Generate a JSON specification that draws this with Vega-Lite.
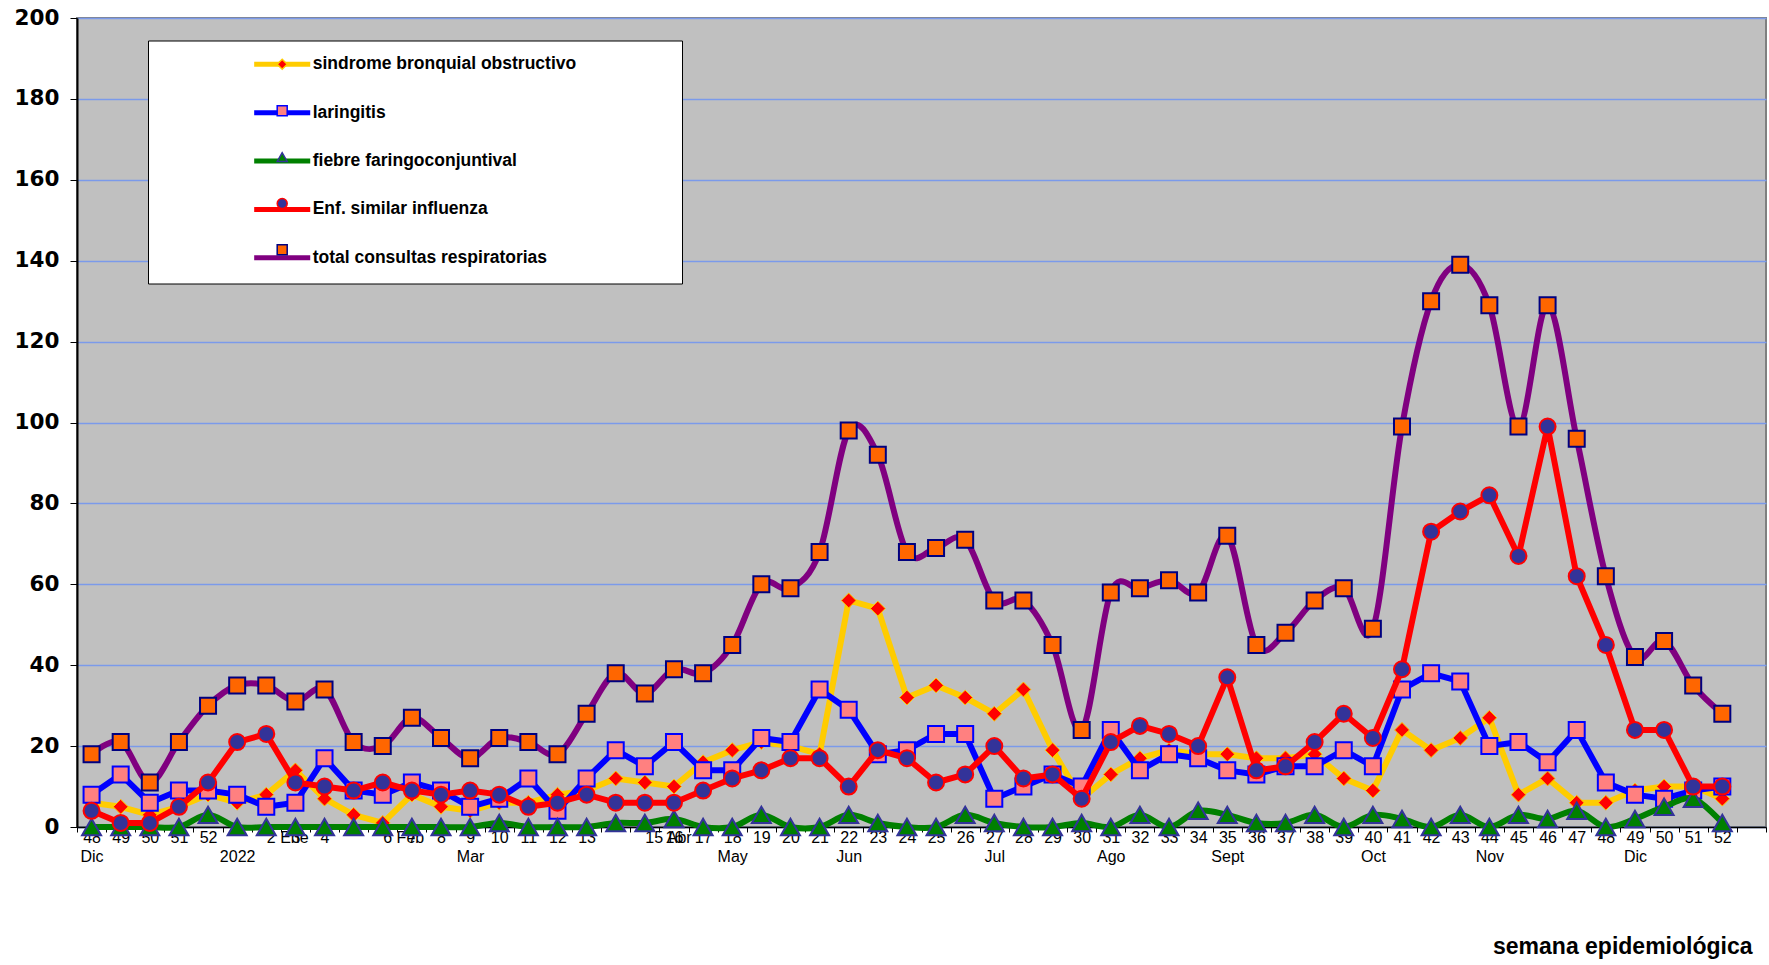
{
  "$schema": "https://vega.github.io/schema/vega-lite/v6.json",
  "width": 1689,
  "height": 809,
  "autosize": {"type": "none"},
  "padding": {"left": 77, "top": 18, "right": 3, "bottom": 138},
  "background": "white",
  "config": {
    "view": {"fill": "#C0C0C0", "stroke": "#808080", "strokeWidth": 2}
  },
  "datasets": {
    "sbo": [
      {"i":0,"s":"sindrome bronquial obstructivo","k":"A","v":6},{"i":1,"s":"sindrome bronquial obstructivo","k":"A","v":5},{"i":2,"s":"sindrome bronquial obstructivo","k":"A","v":3},{"i":3,"s":"sindrome bronquial obstructivo","k":"A","v":5},{"i":4,"s":"sindrome bronquial obstructivo","k":"A","v":8},{"i":5,"s":"sindrome bronquial obstructivo","k":"A","v":6},{"i":6,"s":"sindrome bronquial obstructivo","k":"A","v":8},{"i":7,"s":"sindrome bronquial obstructivo","k":"A","v":14},{"i":8,"s":"sindrome bronquial obstructivo","k":"A","v":7},{"i":9,"s":"sindrome bronquial obstructivo","k":"A","v":3},
      {"i":10,"s":"sindrome bronquial obstructivo","k":"A","v":1},{"i":11,"s":"sindrome bronquial obstructivo","k":"A","v":8},{"i":12,"s":"sindrome bronquial obstructivo","k":"A","v":5},{"i":13,"s":"sindrome bronquial obstructivo","k":"A","v":4},{"i":14,"s":"sindrome bronquial obstructivo","k":"A","v":6},{"i":15,"s":"sindrome bronquial obstructivo","k":"A","v":6},{"i":16,"s":"sindrome bronquial obstructivo","k":"A","v":8},{"i":17,"s":"sindrome bronquial obstructivo","k":"A","v":9},{"i":18,"s":"sindrome bronquial obstructivo","k":"A","v":12},{"i":19,"s":"sindrome bronquial obstructivo","k":"A","v":11},
      {"i":20,"s":"sindrome bronquial obstructivo","k":"A","v":10},{"i":21,"s":"sindrome bronquial obstructivo","k":"A","v":16},{"i":22,"s":"sindrome bronquial obstructivo","k":"A","v":19},{"i":23,"s":"sindrome bronquial obstructivo","k":"A","v":21},{"i":24,"s":"sindrome bronquial obstructivo","k":"A","v":20},{"i":25,"s":"sindrome bronquial obstructivo","k":"A","v":18},{"i":26,"s":"sindrome bronquial obstructivo","k":"A","v":56},{"i":27,"s":"sindrome bronquial obstructivo","k":"A","v":54},{"i":28,"s":"sindrome bronquial obstructivo","k":"A","v":32},{"i":29,"s":"sindrome bronquial obstructivo","k":"A","v":35},
      {"i":30,"s":"sindrome bronquial obstructivo","k":"A","v":32},{"i":31,"s":"sindrome bronquial obstructivo","k":"A","v":28},{"i":32,"s":"sindrome bronquial obstructivo","k":"A","v":34},{"i":33,"s":"sindrome bronquial obstructivo","k":"A","v":19},{"i":34,"s":"sindrome bronquial obstructivo","k":"A","v":7},{"i":35,"s":"sindrome bronquial obstructivo","k":"A","v":13},{"i":36,"s":"sindrome bronquial obstructivo","k":"A","v":17},{"i":37,"s":"sindrome bronquial obstructivo","k":"A","v":19},{"i":38,"s":"sindrome bronquial obstructivo","k":"A","v":18},{"i":39,"s":"sindrome bronquial obstructivo","k":"A","v":18},
      {"i":40,"s":"sindrome bronquial obstructivo","k":"A","v":17},{"i":41,"s":"sindrome bronquial obstructivo","k":"A","v":17},{"i":42,"s":"sindrome bronquial obstructivo","k":"A","v":18},{"i":43,"s":"sindrome bronquial obstructivo","k":"A","v":12},{"i":44,"s":"sindrome bronquial obstructivo","k":"A","v":9},{"i":45,"s":"sindrome bronquial obstructivo","k":"A","v":24},{"i":46,"s":"sindrome bronquial obstructivo","k":"A","v":19},{"i":47,"s":"sindrome bronquial obstructivo","k":"A","v":22},{"i":48,"s":"sindrome bronquial obstructivo","k":"A","v":27},{"i":49,"s":"sindrome bronquial obstructivo","k":"A","v":8},
      {"i":50,"s":"sindrome bronquial obstructivo","k":"A","v":12},{"i":51,"s":"sindrome bronquial obstructivo","k":"A","v":6},{"i":52,"s":"sindrome bronquial obstructivo","k":"A","v":6},{"i":53,"s":"sindrome bronquial obstructivo","k":"A","v":9},{"i":54,"s":"sindrome bronquial obstructivo","k":"A","v":10},{"i":55,"s":"sindrome bronquial obstructivo","k":"A","v":10},{"i":56,"s":"sindrome bronquial obstructivo","k":"A","v":7}
    ],
    "lar": [
      {"i":0,"s":"laringitis","k":"B","v":8},{"i":1,"s":"laringitis","k":"B","v":13},{"i":2,"s":"laringitis","k":"B","v":6},{"i":3,"s":"laringitis","k":"B","v":9},{"i":4,"s":"laringitis","k":"B","v":9},{"i":5,"s":"laringitis","k":"B","v":8},{"i":6,"s":"laringitis","k":"B","v":5},{"i":7,"s":"laringitis","k":"B","v":6},{"i":8,"s":"laringitis","k":"B","v":17},{"i":9,"s":"laringitis","k":"B","v":9},
      {"i":10,"s":"laringitis","k":"B","v":8},{"i":11,"s":"laringitis","k":"B","v":11},{"i":12,"s":"laringitis","k":"B","v":9},{"i":13,"s":"laringitis","k":"B","v":5},{"i":14,"s":"laringitis","k":"B","v":7},{"i":15,"s":"laringitis","k":"B","v":12},{"i":16,"s":"laringitis","k":"B","v":4},{"i":17,"s":"laringitis","k":"B","v":12},{"i":18,"s":"laringitis","k":"B","v":19},{"i":19,"s":"laringitis","k":"B","v":15},
      {"i":20,"s":"laringitis","k":"B","v":21},{"i":21,"s":"laringitis","k":"B","v":14},{"i":22,"s":"laringitis","k":"B","v":14},{"i":23,"s":"laringitis","k":"B","v":22},{"i":24,"s":"laringitis","k":"B","v":21},{"i":25,"s":"laringitis","k":"B","v":34},{"i":26,"s":"laringitis","k":"B","v":29},{"i":27,"s":"laringitis","k":"B","v":18},{"i":28,"s":"laringitis","k":"B","v":19},{"i":29,"s":"laringitis","k":"B","v":23},
      {"i":30,"s":"laringitis","k":"B","v":23},{"i":31,"s":"laringitis","k":"B","v":7},{"i":32,"s":"laringitis","k":"B","v":10},{"i":33,"s":"laringitis","k":"B","v":13},{"i":34,"s":"laringitis","k":"B","v":10},{"i":35,"s":"laringitis","k":"B","v":24},{"i":36,"s":"laringitis","k":"B","v":14},{"i":37,"s":"laringitis","k":"B","v":18},{"i":38,"s":"laringitis","k":"B","v":17},{"i":39,"s":"laringitis","k":"B","v":14},
      {"i":40,"s":"laringitis","k":"B","v":13},{"i":41,"s":"laringitis","k":"B","v":15},{"i":42,"s":"laringitis","k":"B","v":15},{"i":43,"s":"laringitis","k":"B","v":19},{"i":44,"s":"laringitis","k":"B","v":15},{"i":45,"s":"laringitis","k":"B","v":34},{"i":46,"s":"laringitis","k":"B","v":38},{"i":47,"s":"laringitis","k":"B","v":36},{"i":48,"s":"laringitis","k":"B","v":20},{"i":49,"s":"laringitis","k":"B","v":21},
      {"i":50,"s":"laringitis","k":"B","v":16},{"i":51,"s":"laringitis","k":"B","v":24},{"i":52,"s":"laringitis","k":"B","v":11},{"i":53,"s":"laringitis","k":"B","v":8},{"i":54,"s":"laringitis","k":"B","v":7},{"i":55,"s":"laringitis","k":"B","v":9},{"i":56,"s":"laringitis","k":"B","v":10}
    ],
    "ffc": [
      {"i":0,"s":"fiebre faringoconjuntival","k":"C","v":0},{"i":1,"s":"fiebre faringoconjuntival","k":"C","v":0},{"i":2,"s":"fiebre faringoconjuntival","k":"C","v":0},{"i":3,"s":"fiebre faringoconjuntival","k":"C","v":0},{"i":4,"s":"fiebre faringoconjuntival","k":"C","v":3},{"i":5,"s":"fiebre faringoconjuntival","k":"C","v":0},{"i":6,"s":"fiebre faringoconjuntival","k":"C","v":0},{"i":7,"s":"fiebre faringoconjuntival","k":"C","v":0},{"i":8,"s":"fiebre faringoconjuntival","k":"C","v":0},{"i":9,"s":"fiebre faringoconjuntival","k":"C","v":0},
      {"i":10,"s":"fiebre faringoconjuntival","k":"C","v":0},{"i":11,"s":"fiebre faringoconjuntival","k":"C","v":0},{"i":12,"s":"fiebre faringoconjuntival","k":"C","v":0},{"i":13,"s":"fiebre faringoconjuntival","k":"C","v":0},{"i":14,"s":"fiebre faringoconjuntival","k":"C","v":1},{"i":15,"s":"fiebre faringoconjuntival","k":"C","v":0},{"i":16,"s":"fiebre faringoconjuntival","k":"C","v":0},{"i":17,"s":"fiebre faringoconjuntival","k":"C","v":0},{"i":18,"s":"fiebre faringoconjuntival","k":"C","v":1},{"i":19,"s":"fiebre faringoconjuntival","k":"C","v":1},
      {"i":20,"s":"fiebre faringoconjuntival","k":"C","v":2},{"i":21,"s":"fiebre faringoconjuntival","k":"C","v":0},{"i":22,"s":"fiebre faringoconjuntival","k":"C","v":0},{"i":23,"s":"fiebre faringoconjuntival","k":"C","v":3},{"i":24,"s":"fiebre faringoconjuntival","k":"C","v":0},{"i":25,"s":"fiebre faringoconjuntival","k":"C","v":0},{"i":26,"s":"fiebre faringoconjuntival","k":"C","v":3},{"i":27,"s":"fiebre faringoconjuntival","k":"C","v":1},{"i":28,"s":"fiebre faringoconjuntival","k":"C","v":0},{"i":29,"s":"fiebre faringoconjuntival","k":"C","v":0},
      {"i":30,"s":"fiebre faringoconjuntival","k":"C","v":3},{"i":31,"s":"fiebre faringoconjuntival","k":"C","v":1},{"i":32,"s":"fiebre faringoconjuntival","k":"C","v":0},{"i":33,"s":"fiebre faringoconjuntival","k":"C","v":0},{"i":34,"s":"fiebre faringoconjuntival","k":"C","v":1},{"i":35,"s":"fiebre faringoconjuntival","k":"C","v":0},{"i":36,"s":"fiebre faringoconjuntival","k":"C","v":3},{"i":37,"s":"fiebre faringoconjuntival","k":"C","v":0},{"i":38,"s":"fiebre faringoconjuntival","k":"C","v":4},{"i":39,"s":"fiebre faringoconjuntival","k":"C","v":3},
      {"i":40,"s":"fiebre faringoconjuntival","k":"C","v":1},{"i":41,"s":"fiebre faringoconjuntival","k":"C","v":1},{"i":42,"s":"fiebre faringoconjuntival","k":"C","v":3},{"i":43,"s":"fiebre faringoconjuntival","k":"C","v":0},{"i":44,"s":"fiebre faringoconjuntival","k":"C","v":3},{"i":45,"s":"fiebre faringoconjuntival","k":"C","v":2},{"i":46,"s":"fiebre faringoconjuntival","k":"C","v":0},{"i":47,"s":"fiebre faringoconjuntival","k":"C","v":3},{"i":48,"s":"fiebre faringoconjuntival","k":"C","v":0},{"i":49,"s":"fiebre faringoconjuntival","k":"C","v":3},
      {"i":50,"s":"fiebre faringoconjuntival","k":"C","v":2},{"i":51,"s":"fiebre faringoconjuntival","k":"C","v":4},{"i":52,"s":"fiebre faringoconjuntival","k":"C","v":0},{"i":53,"s":"fiebre faringoconjuntival","k":"C","v":2},{"i":54,"s":"fiebre faringoconjuntival","k":"C","v":5},{"i":55,"s":"fiebre faringoconjuntival","k":"C","v":7},{"i":56,"s":"fiebre faringoconjuntival","k":"C","v":1}
    ],
    "esi": [
      {"i":0,"s":"Enf. similar influenza","k":"D","v":4},{"i":1,"s":"Enf. similar influenza","k":"D","v":1},{"i":2,"s":"Enf. similar influenza","k":"D","v":1},{"i":3,"s":"Enf. similar influenza","k":"D","v":5},{"i":4,"s":"Enf. similar influenza","k":"D","v":11},{"i":5,"s":"Enf. similar influenza","k":"D","v":21},{"i":6,"s":"Enf. similar influenza","k":"D","v":23},{"i":7,"s":"Enf. similar influenza","k":"D","v":11},{"i":8,"s":"Enf. similar influenza","k":"D","v":10},{"i":9,"s":"Enf. similar influenza","k":"D","v":9},
      {"i":10,"s":"Enf. similar influenza","k":"D","v":11},{"i":11,"s":"Enf. similar influenza","k":"D","v":9},{"i":12,"s":"Enf. similar influenza","k":"D","v":8},{"i":13,"s":"Enf. similar influenza","k":"D","v":9},{"i":14,"s":"Enf. similar influenza","k":"D","v":8},{"i":15,"s":"Enf. similar influenza","k":"D","v":5},{"i":16,"s":"Enf. similar influenza","k":"D","v":6},{"i":17,"s":"Enf. similar influenza","k":"D","v":8},{"i":18,"s":"Enf. similar influenza","k":"D","v":6},{"i":19,"s":"Enf. similar influenza","k":"D","v":6},
      {"i":20,"s":"Enf. similar influenza","k":"D","v":6},{"i":21,"s":"Enf. similar influenza","k":"D","v":9},{"i":22,"s":"Enf. similar influenza","k":"D","v":12},{"i":23,"s":"Enf. similar influenza","k":"D","v":14},{"i":24,"s":"Enf. similar influenza","k":"D","v":17},{"i":25,"s":"Enf. similar influenza","k":"D","v":17},{"i":26,"s":"Enf. similar influenza","k":"D","v":10},{"i":27,"s":"Enf. similar influenza","k":"D","v":19},{"i":28,"s":"Enf. similar influenza","k":"D","v":17},{"i":29,"s":"Enf. similar influenza","k":"D","v":11},
      {"i":30,"s":"Enf. similar influenza","k":"D","v":13},{"i":31,"s":"Enf. similar influenza","k":"D","v":20},{"i":32,"s":"Enf. similar influenza","k":"D","v":12},{"i":33,"s":"Enf. similar influenza","k":"D","v":13},{"i":34,"s":"Enf. similar influenza","k":"D","v":7},{"i":35,"s":"Enf. similar influenza","k":"D","v":21},{"i":36,"s":"Enf. similar influenza","k":"D","v":25},{"i":37,"s":"Enf. similar influenza","k":"D","v":23},{"i":38,"s":"Enf. similar influenza","k":"D","v":20},{"i":39,"s":"Enf. similar influenza","k":"D","v":37},
      {"i":40,"s":"Enf. similar influenza","k":"D","v":14},{"i":41,"s":"Enf. similar influenza","k":"D","v":15},{"i":42,"s":"Enf. similar influenza","k":"D","v":21},{"i":43,"s":"Enf. similar influenza","k":"D","v":28},{"i":44,"s":"Enf. similar influenza","k":"D","v":22},{"i":45,"s":"Enf. similar influenza","k":"D","v":39},{"i":46,"s":"Enf. similar influenza","k":"D","v":73},{"i":47,"s":"Enf. similar influenza","k":"D","v":78},{"i":48,"s":"Enf. similar influenza","k":"D","v":82},{"i":49,"s":"Enf. similar influenza","k":"D","v":67},
      {"i":50,"s":"Enf. similar influenza","k":"D","v":99},{"i":51,"s":"Enf. similar influenza","k":"D","v":62},{"i":52,"s":"Enf. similar influenza","k":"D","v":45},{"i":53,"s":"Enf. similar influenza","k":"D","v":24},{"i":54,"s":"Enf. similar influenza","k":"D","v":24},{"i":55,"s":"Enf. similar influenza","k":"D","v":10},{"i":56,"s":"Enf. similar influenza","k":"D","v":10}
    ],
    "tot": [
      {"i":0,"s":"total consultas respiratorias","k":"E","v":18},{"i":1,"s":"total consultas respiratorias","k":"E","v":21},{"i":2,"s":"total consultas respiratorias","k":"E","v":11},{"i":3,"s":"total consultas respiratorias","k":"E","v":21},{"i":4,"s":"total consultas respiratorias","k":"E","v":30},{"i":5,"s":"total consultas respiratorias","k":"E","v":35},{"i":6,"s":"total consultas respiratorias","k":"E","v":35},{"i":7,"s":"total consultas respiratorias","k":"E","v":31},{"i":8,"s":"total consultas respiratorias","k":"E","v":34},{"i":9,"s":"total consultas respiratorias","k":"E","v":21},
      {"i":10,"s":"total consultas respiratorias","k":"E","v":20},{"i":11,"s":"total consultas respiratorias","k":"E","v":27},{"i":12,"s":"total consultas respiratorias","k":"E","v":22},{"i":13,"s":"total consultas respiratorias","k":"E","v":17},{"i":14,"s":"total consultas respiratorias","k":"E","v":22},{"i":15,"s":"total consultas respiratorias","k":"E","v":21},{"i":16,"s":"total consultas respiratorias","k":"E","v":18},{"i":17,"s":"total consultas respiratorias","k":"E","v":28},{"i":18,"s":"total consultas respiratorias","k":"E","v":38},{"i":19,"s":"total consultas respiratorias","k":"E","v":33},
      {"i":20,"s":"total consultas respiratorias","k":"E","v":39},{"i":21,"s":"total consultas respiratorias","k":"E","v":38},{"i":22,"s":"total consultas respiratorias","k":"E","v":45},{"i":23,"s":"total consultas respiratorias","k":"E","v":60},{"i":24,"s":"total consultas respiratorias","k":"E","v":59},{"i":25,"s":"total consultas respiratorias","k":"E","v":68},{"i":26,"s":"total consultas respiratorias","k":"E","v":98},{"i":27,"s":"total consultas respiratorias","k":"E","v":92},{"i":28,"s":"total consultas respiratorias","k":"E","v":68},{"i":29,"s":"total consultas respiratorias","k":"E","v":69},
      {"i":30,"s":"total consultas respiratorias","k":"E","v":71},{"i":31,"s":"total consultas respiratorias","k":"E","v":56},{"i":32,"s":"total consultas respiratorias","k":"E","v":56},{"i":33,"s":"total consultas respiratorias","k":"E","v":45},{"i":34,"s":"total consultas respiratorias","k":"E","v":24},{"i":35,"s":"total consultas respiratorias","k":"E","v":58},{"i":36,"s":"total consultas respiratorias","k":"E","v":59},{"i":37,"s":"total consultas respiratorias","k":"E","v":61},{"i":38,"s":"total consultas respiratorias","k":"E","v":58},{"i":39,"s":"total consultas respiratorias","k":"E","v":72},
      {"i":40,"s":"total consultas respiratorias","k":"E","v":45},{"i":41,"s":"total consultas respiratorias","k":"E","v":48},{"i":42,"s":"total consultas respiratorias","k":"E","v":56},{"i":43,"s":"total consultas respiratorias","k":"E","v":59},{"i":44,"s":"total consultas respiratorias","k":"E","v":49},{"i":45,"s":"total consultas respiratorias","k":"E","v":99},{"i":46,"s":"total consultas respiratorias","k":"E","v":130},{"i":47,"s":"total consultas respiratorias","k":"E","v":139},{"i":48,"s":"total consultas respiratorias","k":"E","v":129},{"i":49,"s":"total consultas respiratorias","k":"E","v":99},
      {"i":50,"s":"total consultas respiratorias","k":"E","v":129},{"i":51,"s":"total consultas respiratorias","k":"E","v":96},{"i":52,"s":"total consultas respiratorias","k":"E","v":62},{"i":53,"s":"total consultas respiratorias","k":"E","v":42},{"i":54,"s":"total consultas respiratorias","k":"E","v":46},{"i":55,"s":"total consultas respiratorias","k":"E","v":35},{"i":56,"s":"total consultas respiratorias","k":"E","v":28}
    ]
  },
  "encoding": {
    "x": {
      "field": "i",
      "type": "ordinal",
      "bandPosition": 0.5,
      "scale": {
        "type": "band",
        "paddingInner": 0,
        "paddingOuter": 0,
        "domain": [0,1,2,3,4,5,6,7,8,9,10,11,12,13,14,15,16,17,18,19,20,21,22,23,24,25,26,27,28,29,30,31,32,33,34,35,36,37,38,39,40,41,42,43,44,45,46,47,48,49,50,51,52,53,54,55,56,57]
      },
      "axis": {
        "title": "semana epidemiológica",
        "titleFont": "Liberation Sans",
        "titleFontWeight": "bold",
        "titleFontSize": 23,
        "titleColor": "black",
        "titleAnchor": "end",
        "titleAlign": "right",
        "titleBaseline": "alphabetic",
        "titleX": 1675,
        "titleY": 126,
        "labelExpr": "[['48','Dic'],'49','50','51','52',['','2022'],'2 Ene','3','4','','6 Feb','7','8',['9','Mar'],'10','11','12','13','','15 Abr','16','17',['18','May'],'19','20','21',['22','Jun'],'23','24','25','26',['27','Jul'],'28','29','30',['31','Ago'],'32','33','34',['35','Sept'],'36','37','38','39',['40','Oct'],'41','42','43',['44','Nov'],'45','46','47','48',['49','Dic'],'50','51','52',''][datum.value]",
        "labelAngle": 0,
        "labelFont": "Liberation Sans",
        "labelFontSize": 16,
        "labelColor": "black",
        "labelLineHeight": 18.5,
        "labelPadding": -2.5,
        "labelOverlap": false,
        "labelAlign": {"condition": {"test": "indexof([6,10,19], datum.value) >= 0", "value": "left"}, "value": "center"},
        "tickSize": 5,
        "tickColor": "black",
        "tickBand": "extent",
        "domainColor": "black",
        "domainWidth": 1.5,
        "grid": false
      }
    },
    "y": {
      "field": "v",
      "type": "quantitative",
      "scale": {"domain": [0, 200], "nice": false},
      "axis": {
        "title": null,
        "values": [0,20,40,60,80,100,120,140,160,180,200],
        "labelFont": "DejaVu Sans",
        "labelFontWeight": "bold",
        "labelFontSize": 21.5,
        "labelColor": "black",
        "labelPadding": 11,
        "tickSize": 7,
        "tickColor": "black",
        "domainColor": "black",
        "domainWidth": 2,
        "grid": true,
        "gridColor": "#7B9AEA",
        "gridWidth": 1.5
      }
    }
  },
  "layer": [
    {
      "data": {"name": "sbo"},
      "mark": {"type": "line", "interpolate": "linear", "strokeWidth": 6, "strokeJoin": "round", "strokeCap": "round"},
      "encoding": {
        "color": {
          "field": "s", "type": "nominal",
          "scale": {
            "domain": ["sindrome bronquial obstructivo","laringitis","fiebre faringoconjuntival","Enf. similar influenza","total consultas respiratorias"],
            "range": ["#FFCC00","#0000FF","#008000","#FF0000","#800080"]
          },
          "legend": {
            "orient": "none", "legendX": 71, "legendY": 22.5, "title": null, "direction": "vertical",
            "padding": 15, "fillColor": "white", "strokeColor": "black",
            "symbolType": "M62.37,0M-4.67,0H4.67", "symbolSize": 144, "symbolStrokeWidth": 5,
            "symbolOffset": 110.45, "labelOffset": 21.75,
            "labelFont": "Liberation Sans", "labelFontWeight": "bold", "labelFontSize": 17.5, "labelColor": "black", "labelLimit": 500,
            "rowPadding": 27.4
          }
        }
      }
    },
    {
      "data": {"name": "sbo"},
      "mark": {"type": "point", "filled": true, "opacity": 1, "size": 220, "strokeWidth": 1},
      "encoding": {
        "fill": {"field": "k", "type": "nominal", "scale": {"domain": ["A","B","C","D","E"], "range": ["#FF0000","#FF8080","#008000","#333399","#FF6600"]},
          "legend": {"orient": "none", "legendX": 71, "legendY": 22.5, "title": null, "direction": "vertical", "padding": 15, "symbolSize": 100, "symbolStrokeWidth": 1.5, "symbolOffset": 110.45, "labelOffset": 21.75, "labelExpr": "''", "labelFont": "Liberation Sans", "labelFontWeight": "bold", "labelFontSize": 17.5, "labelOpacity": 0, "labelLimit": 500, "rowPadding": 27.4}},
        "stroke": {"field": "k", "type": "nominal", "scale": {"domain": ["A","B","C","D","E"], "range": ["#FFCC00","#0000FF","#333399","#FF0000","#000080"]},
          "legend": {"orient": "none", "legendX": 71, "legendY": 22.5, "title": null, "direction": "vertical", "padding": 15, "symbolSize": 100, "symbolStrokeWidth": 1.5, "symbolOffset": 110.45, "labelOffset": 21.75, "labelExpr": "''", "labelFont": "Liberation Sans", "labelFontWeight": "bold", "labelFontSize": 17.5, "labelOpacity": 0, "labelLimit": 500, "rowPadding": 27.4}},
        "shape": {"field": "k", "type": "nominal", "scale": {"domain": ["A","B","C","D","E"], "range": ["diamond","square","triangle-up","circle","square"]},
          "legend": {"orient": "none", "legendX": 71, "legendY": 22.5, "title": null, "direction": "vertical", "padding": 15, "symbolSize": 100, "symbolStrokeWidth": 1.5, "symbolOffset": 110.45, "labelOffset": 21.75, "labelExpr": "''", "labelFont": "Liberation Sans", "labelFontWeight": "bold", "labelFontSize": 17.5, "labelOpacity": 0, "labelLimit": 500, "rowPadding": 27.4}}
      }
    },
    {
      "data": {"name": "lar"},
      "mark": {"type": "line", "interpolate": "linear", "strokeWidth": 6, "strokeJoin": "round", "strokeCap": "round"},
      "encoding": {"color": {"field": "s", "type": "nominal"}}
    },
    {
      "data": {"name": "lar"},
      "mark": {"type": "point", "filled": true, "opacity": 1, "size": 256, "strokeWidth": 2},
      "encoding": {"fill": {"field": "k", "type": "nominal"}, "stroke": {"field": "k", "type": "nominal"}, "shape": {"field": "k", "type": "nominal"}}
    },
    {
      "data": {"name": "ffc"},
      "mark": {"type": "line", "interpolate": "cardinal", "strokeWidth": 6, "strokeJoin": "round", "strokeCap": "round"},
      "encoding": {"color": {"field": "s", "type": "nominal"}}
    },
    {
      "data": {"name": "ffc"},
      "mark": {"type": "point", "filled": true, "opacity": 1, "size": 360, "strokeWidth": 2},
      "encoding": {"fill": {"field": "k", "type": "nominal"}, "stroke": {"field": "k", "type": "nominal"}, "shape": {"field": "k", "type": "nominal"}}
    },
    {
      "data": {"name": "esi"},
      "mark": {"type": "line", "interpolate": "linear", "strokeWidth": 6, "strokeJoin": "round", "strokeCap": "round"},
      "encoding": {"color": {"field": "s", "type": "nominal"}}
    },
    {
      "data": {"name": "esi"},
      "mark": {"type": "point", "filled": true, "opacity": 1, "size": 256, "strokeWidth": 2},
      "encoding": {"fill": {"field": "k", "type": "nominal"}, "stroke": {"field": "k", "type": "nominal"}, "shape": {"field": "k", "type": "nominal"}}
    },
    {
      "data": {"name": "tot"},
      "mark": {"type": "line", "interpolate": "cardinal", "strokeWidth": 6, "strokeJoin": "round", "strokeCap": "round"},
      "encoding": {"color": {"field": "s", "type": "nominal"}}
    },
    {
      "data": {"name": "tot"},
      "mark": {"type": "point", "filled": true, "opacity": 1, "size": 256, "strokeWidth": 2},
      "encoding": {"fill": {"field": "k", "type": "nominal"}, "stroke": {"field": "k", "type": "nominal"}, "shape": {"field": "k", "type": "nominal"}}
    }
  ]
}
